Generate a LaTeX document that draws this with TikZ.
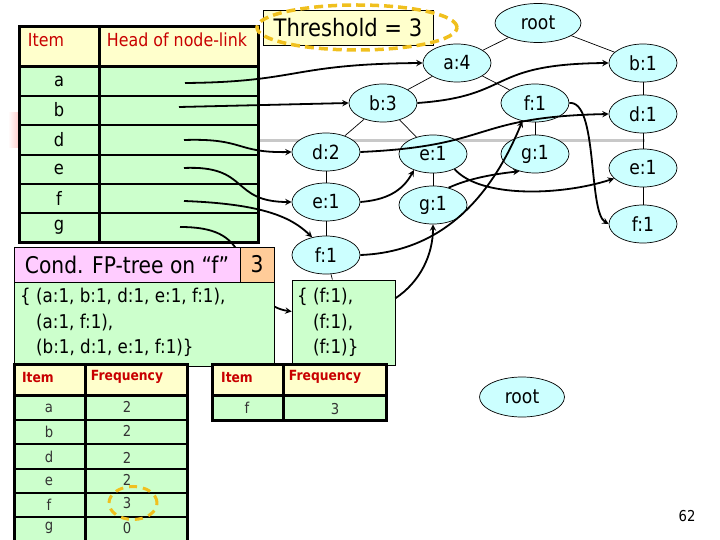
\documentclass[tikz,border=0pt]{standalone}
\usepackage{fontspec}
\setmainfont{DejaVu Sans}[FakeStretch=0.88]
\usetikzlibrary{shapes.geometric}
\definecolor{cellgreen}{RGB}{204,255,204}
\definecolor{headyellow}{RGB}{255,255,204}
\definecolor{nodecyan}{RGB}{204,255,255}
\definecolor{condpink}{RGB}{255,204,255}
\definecolor{condorange}{RGB}{255,204,153}
\definecolor{headred}{RGB}{200,0,0}
\definecolor{ringgold}{RGB}{240,192,30}
\definecolor{slidegrey}{RGB}{200,200,200}

\begin{document}
\begin{tikzpicture}[x=1pt,y=-1pt]

%
% Styles
%
\tikzstyle{treenode}  = [ellipse,draw=black,line width=0.7pt,fill=nodecyan,minimum width=68pt,minimum height=38pt,inner sep=0pt,font=\fontsize{19.5}{21}\selectfont]
\tikzstyle{treeedge}  = [line width=0.7pt]
\tikzstyle{link}      = [->,>=stealth,line width=1.8pt]
\tikzstyle{tableframe} = [line width=3pt]
\tikzstyle{tablerule} = [line width=2pt]
\tikzstyle{headtext}  = [text=headred,font=\fontsize{18}{20}\selectfont]
\tikzstyle{celltext}  = [font=\fontsize{18.5}{20}\selectfont]
\tikzstyle{freqhead}  = [text=headred,font=\bfseries\fontsize{14}{16}\selectfont]
\tikzstyle{freqtext}  = [text=black!80,font=\fontsize{15}{16}\selectfont]
\tikzstyle{condtext}  = [align=left,inner sep=0pt,font=\fontsize{19}{25.5}\selectfont]
\tikzstyle{ring}      = [ellipse,draw=ringgold,line width=3.5pt,dash pattern=on 9pt off 5pt,inner sep=0pt]

\useasboundingbox (0,0) rectangle (720,540);

% slide background bits
\fill[left color=white,right color=red!20] (8,113) rectangle (19,148);
\draw[slidegrey,line width=3pt] (258,141) -- (645,141);

%
% Header table
%
\fill[headyellow] (19,27) rectangle (258,67);
\fill[cellgreen] (19,67) rectangle (258,242);
\draw[tablerule] (19,96) -- (258,96);
\draw[tablerule] (19,125) -- (258,125);
\draw[tablerule] (19,155) -- (258,155);
\draw[tablerule] (19,184) -- (258,184);
\draw[tablerule] (19,213) -- (258,213);
\draw[tableframe] (99,27) -- (99,242);
\draw[tableframe] (19,67) -- (258,67);
\draw[tableframe] (19,27) rectangle (258,242);

\node[headtext] (itemhead) at (46,40) {Item};
\node[headtext] (linkhead) at (177,40) {Head of node-link};
\node[celltext] (ra) at (59,81)  {a};
\node[celltext] (rb) at (59,110) {b};
\node[celltext] (rd) at (59,140) {d};
\node[celltext] (re) at (59,169) {e};
\node[celltext] (rf) at (59,198) {f};
\node[celltext] (rg) at (59,227) {g};

\coordinate (ha) at (185,83);
\coordinate (hb) at (179,107);
\coordinate (hd) at (184,140);
\coordinate (he) at (184,168);
\coordinate (hf) at (184,201);
\coordinate (hg) at (180,227);

%
% Threshold
%
\node[draw=black,line width=0.7pt,fill=headyellow,minimum width=170pt,minimum height=35pt,font=\fontsize{24}{26}\selectfont] (thresh) at (348,27.5) {Threshold = 3};
\node[ring,minimum width=200pt,minimum height=45pt] (threshring) at (357,27.5) {};

%
% FP-tree
%
\node[treenode,minimum width=86pt,minimum height=39pt] (root) at (538,23) {root};
\node[treenode] (a4)  at (457,63)  {a:4};
\node[treenode] (b3)  at (383,103) {b:3};
\node[treenode] (d2)  at (326,152) {d:2};
\node[treenode] (e1l) at (326,202) {e:1};
\node[treenode] (f1l) at (326,255) {f:1};
\node[treenode] (e1m) at (433,154) {e:1};
\node[treenode] (g1m) at (433,205) {g:1};
\node[treenode] (f1a) at (535,103) {f:1};
\node[treenode] (g1a) at (535,154) {g:1};
\node[treenode] (b1)  at (643,63)  {b:1};
\node[treenode] (d1)  at (643,114) {d:1};
\node[treenode] (e1r) at (643,168) {e:1};
\node[treenode] (f1r) at (643,224) {f:1};

\node[draw=black,line width=0.7pt,fill=cellgreen,minimum width=103pt,minimum height=85pt] (fbox) at (343.5,322.5) {};
\node[condtext,anchor=north west] (flist) at (297,288) {\{ (f:1),\\\phantom{\{ }(f:1),\\\phantom{\{ }(f:1)\}};

\draw[treeedge] (root) -- (a4);
\draw[treeedge] (root) -- (b1);
\draw[treeedge] (a4) -- (b3);
\draw[treeedge] (a4) -- (f1a);
\draw[treeedge] (b3) -- (d2);
\draw[treeedge] (b3) -- (e1m);
\draw[treeedge] (d2) -- (e1l);
\draw[treeedge] (e1l) -- (f1l);
\draw[treeedge] (e1m) -- (g1m);
\draw[treeedge] (f1a) -- (g1a);
\draw[treeedge] (b1) -- (d1);
\draw[treeedge] (d1) -- (e1r);
\draw[treeedge] (e1r) -- (f1r);
\draw[treeedge] (f1l) -- (fbox);

%
% Node-links
%
\draw[link] (ha) .. controls (300,82) and (290,64) .. (a4.west);
\draw[link] (hb) -- (b3.west);
\draw[link] (b3.east) .. controls (515,96) and (485,64) .. (b1.west);
\draw[link] (hd) .. controls (245,138) and (235,153) .. (d2.west);
\draw[link] (d2.east) .. controls (495,146) and (470,117) .. (d1.west);
\draw[link] (he) .. controls (250,165) and (230,202) .. (e1l.west);
\draw[link] (e1l.east) .. controls (385,200) and (402,192) .. (e1m.220);
\draw[link] (e1m.-35) .. controls (480,198) and (560,196) .. (e1r.200);
\draw[link] (hf) .. controls (265,204) and (292,218) .. (f1l.128);
\draw[link] (f1l.east) .. controls (440,252) and (490,200) .. (f1a.235);
\draw[link] (f1a.east) .. controls (598,100) and (588,212) .. (f1r.west);
\draw[link] (hg) .. controls (215,227) and (230,236) .. (240,255) .. controls (252,292) and (268,308) .. (fbox.168);
\draw[link] (fbox.25) .. controls (420,282) and (433,255) .. (g1m.south);
\draw[link] (g1m.48) .. controls (470,178) and (495,174) .. (g1a.228);

%
% Conditional FP-tree
%
\node[draw=black,line width=0.7pt,fill=condpink,minimum width=226pt,minimum height=35pt,inner sep=0pt,font=\fontsize{23}{25}\selectfont] (condtitle) at (127,264.5) {Cond. FP-tree on “f”};
\node[draw=black,line width=0.7pt,fill=condorange,minimum width=34pt,minimum height=35pt,inner sep=0pt,font=\fontsize{23}{25}\selectfont] (condcount) at (257,264.5) {3};
\node[draw=black,line width=0.7pt,fill=cellgreen,minimum width=260pt,minimum height=84pt] (condbox) at (144,324) {};
\node[condtext,anchor=north west] (condlist) at (20,288) {\{ (a:1, b:1, d:1, e:1, f:1),\\\phantom{\{ }(a:1, f:1),\\\phantom{\{ }(b:1, d:1, e:1, f:1)\}};

%
% Frequency tables
%
\fill[headyellow] (14,364) rectangle (187,395);
\fill[cellgreen] (14,395) rectangle (187,545);
\draw[tablerule] (14,420) -- (187,420);
\draw[tablerule] (14,444) -- (187,444);
\draw[tablerule] (14,469) -- (187,469);
\draw[tablerule] (14,493) -- (187,493);
\draw[tablerule] (14,517) -- (187,517);
\draw[tableframe] (85,364) -- (85,545);
\draw[tableframe] (14,395) -- (187,395);
\draw[tableframe] (14,545) -- (14,364) -- (187,364) -- (187,545);

\node[freqhead] (fitem) at (38,377) {Item};
\node[freqhead] (ffreq) at (127,377) {Frequency};
\node[freqtext] (fa) at (49,408) {a};
\node[freqtext] (fb) at (49,432) {b};
\node[freqtext] (fd) at (49,457) {d};
\node[freqtext] (fe) at (49,481) {e};
\node[freqtext] (ff) at (49,505) {f};
\node[freqtext] (fg) at (49,528) {g};
\node[freqtext] (na) at (127,407) {2};
\node[freqtext] (nb) at (127,431) {2};
\node[freqtext] (nd) at (127,458) {2};
\node[freqtext] (ne) at (127,480) {2};
\node[freqtext] (nf) at (127,503) {3};
\node[freqtext] (ng) at (127,528) {0};
\node[ring,line width=3pt,dash pattern=on 8pt off 6pt,minimum width=48pt,minimum height=33pt] (fring) at (133,503) {};

\fill[headyellow] (212,364) rectangle (386,395);
\fill[cellgreen] (212,395) rectangle (386,420);
\draw[tableframe] (283,364) -- (283,420);
\draw[tableframe] (212,395) -- (386,395);
\draw[tableframe] (212,364) rectangle (386,420);

\node[freqhead] (citem) at (237,377) {Item};
\node[freqhead] (cfreq) at (325,377) {Frequency};
\node[freqtext] (cf) at (247,408) {f};
\node[freqtext] (cn) at (335,409) {3};

\node[treenode,minimum width=85pt,minimum height=40pt] (root2) at (522,397) {root};

\node[font=\fontsize{15}{16}\selectfont] (page) at (687,516) {62};

\end{tikzpicture}
\end{document}
